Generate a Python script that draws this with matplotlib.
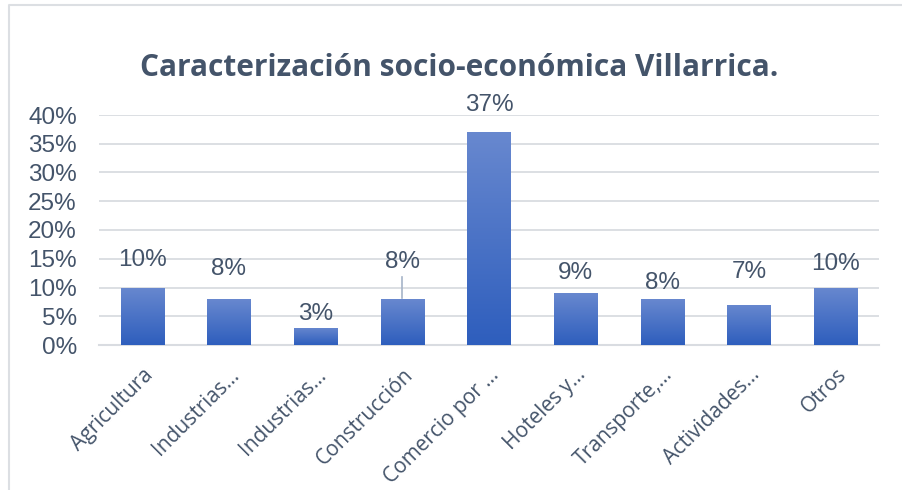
import matplotlib.pyplot as plt
import numpy as np
from matplotlib.lines import Line2D
from matplotlib.colors import LinearSegmentedColormap

# datos
categorias = ['Agricultura', 'Industrias…', 'Industrias…', 'Construcción', 'Comercio por …',
              'Hoteles y…', 'Transporte,…', 'Actividades…', 'Otros']
valores = [10, 8, 3, 8, 37, 9, 8, 7, 10]
etiquetas = ['10%', '8%', '3%', '8%', '37%', '9%', '8%', '7%', '10%']
ticks_y = [0, 5, 10, 15, 20, 25, 30, 35, 40]

# posicion (en %) de las etiquetas de datos, movidas a mano como en el original
pos_etiqueta = [14.8, 13.2, 5.4, 14.4, 41.7, 12.5, 10.8, 12.7, 14.1]

texto = '#44546A'
rejilla = '#D9DCE1'

fig = plt.figure(figsize=(9.02, 4.9), dpi=100)
ax = fig.add_axes([99 / 902, 145 / 490, 780 / 902, 230 / 490])

# marco del grafico (solo se ve arriba e izquierda)
fig.lines.append(Line2D([9 / 902, 9 / 902, 1], [0, 1 - 5 / 490, 1 - 5 / 490], transform=fig.transFigure,
                        color='#DCDFE3', linewidth=1.5))

x = np.arange(len(valores))
barras = ax.bar(x, valores, width=0.5, color='none', zorder=3)

# degradado azul en cada barra
grad = np.linspace(0, 1, 256).reshape(-1, 1)
cmap = LinearSegmentedColormap.from_list('azul', ['#2E5EBD', '#6888CF'])
for b in barras:
    im = ax.imshow(grad, cmap=cmap, aspect='auto', origin='lower',
                   extent=[b.get_x(), b.get_x() + b.get_width(), 0, b.get_height()],
                   zorder=3)
    im.set_clip_path(b)

for i, (v, t) in enumerate(zip(valores, etiquetas)):
    ax.text(i, pos_etiqueta[i], t, ha='center', va='center', fontsize=17.5,
            color=texto, family='Liberation Sans', zorder=4, clip_on=False)

# linea guia de la etiqueta desplazada (Construcción)
ax.plot([3, 3], [valores[3] + 0.2, pos_etiqueta[3] - 2.5], color='#A6B4C8', lw=1.2, zorder=4)

ax.set_xlim(-0.5, len(valores) - 0.5)
ax.set_ylim(0, 40)
ax.set_yticks(ticks_y)
ax.set_yticklabels([f'{t}%' for t in ticks_y], fontsize=17.5, color=texto, family='Liberation Sans')
ax.tick_params(axis='y', length=0, pad=16)
ax.set_xticks(x)
ax.set_xticklabels(categorias, rotation=45, ha='right', rotation_mode='anchor',
                   fontsize=15, color=texto, family='Open Sans')
ax.tick_params(axis='x', length=0, pad=14)

ax.grid(axis='y', color=rejilla, linewidth=1.3, zorder=0)
ax.set_axisbelow(True)
for s in ['top', 'right', 'left']:
    ax.spines[s].set_visible(False)
ax.spines['bottom'].set_color(rejilla)
ax.spines['bottom'].set_linewidth(1.5)

fig.text(459 / 902, 1 - 68 / 490, 'Caracterización socio-económica Villarrica.', ha='center', va='center',
         fontsize=21.5, fontweight='bold', color=texto, family='Open Sans')

fig.savefig('out.png', dpi=100)
